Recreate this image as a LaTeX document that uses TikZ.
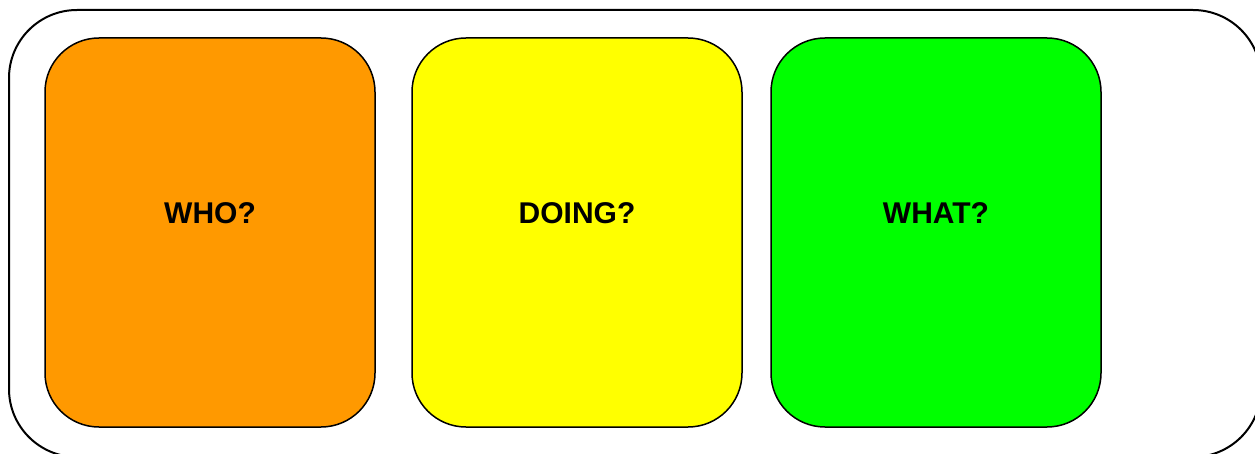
\documentclass[tikz,border=0pt]{standalone}
\usepackage{fontspec}
\setmainfont{Liberation Sans}
\definecolor{cOrange}{HTML}{FF9900}
\definecolor{cYellow}{HTML}{FFFF00}
\definecolor{cGreen}{HTML}{00FF00}
\begin{document}
\begin{tikzpicture}[x=1pt,y=-1pt,
  card/.style={draw=black,line width=1.5pt,rounded corners=54pt,minimum width=330pt,minimum height=389pt,inner sep=0pt},
  lbl/.style={font=\fontsize{30}{34}\selectfont\bfseries,inner sep=0pt}]
\useasboundingbox (0,0) rectangle (1255,454);
\begin{scope}
\clip (0,0) rectangle (1255,454);
\draw[line width=2pt,rounded corners=68pt] (9,10) rectangle (1261,457);
\end{scope}
\node[card,fill=cOrange] (who) at (210,232.5) {};
\node[card,fill=cYellow] (doing) at (577,232.5) {};
\node[card,fill=cGreen] (what) at (936,232.5) {};
\node[lbl] (twho) at (210,213) {WHO?};
\node[lbl] (tdoing) at (577,213) {DOING?};
\node[lbl] (twhat) at (936,213) {WHAT?};
\end{tikzpicture}
\end{document}
